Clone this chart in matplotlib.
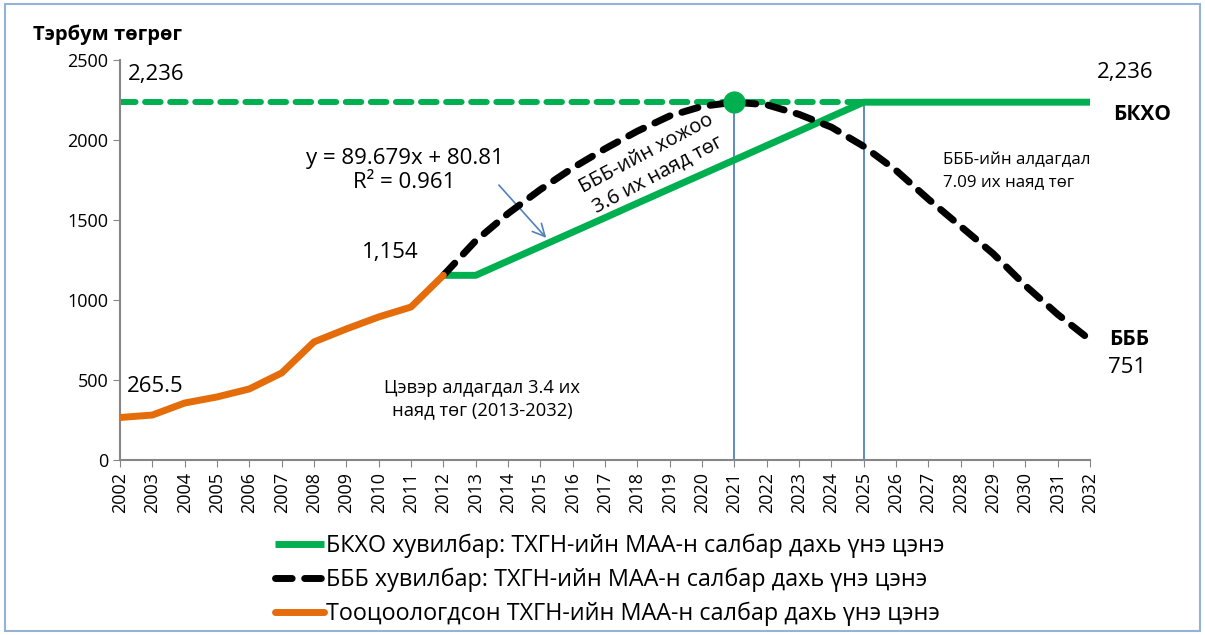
import numpy as np
import matplotlib.pyplot as plt
from matplotlib.patches import Rectangle

plt.rcParams['font.family'] = ['Open Sans', 'DejaVu Sans']

years = np.arange(2002, 2033)

# Тооцоологдсон (2002-2012)
hist_years = np.arange(2002, 2013)
hist_vals = [265.5, 281, 356, 394, 444, 544, 738, 819, 894, 956, 1154]

# БКХО хувилбар (2012-2032)
bkho_years = np.arange(2012, 2033)
bkho_vals = [1154, 1154, 1244, 1334, 1424, 1514, 1605, 1695, 1785, 1875, 1965,
             2055, 2146, 2236, 2236, 2236, 2236, 2236, 2236, 2236, 2236]

# БББ хувилбар (2012-2032)
bbb_years = np.arange(2012, 2033)
bbb_vals = [1154, 1370, 1540, 1690, 1825, 1945, 2055, 2150, 2210, 2236, 2220,
            2160, 2080, 1960, 1810, 1630, 1460, 1290, 1090, 910, 751]

target = 2236
peak_year = 2021
flat_year = 2025

green = '#00b050'
orange = '#e46c0a'
blue = '#4f81bd'

fig = plt.figure(figsize=(12.05, 6.35), dpi=100)
ax = fig.add_axes([0.0996, 0.2756, 0.805, 0.63])

ax.plot([2002, flat_year], [target, target], color=green, lw=4.3,
        dashes=(2.6, 1.6), dash_capstyle='round', zorder=2)
l1, = ax.plot(bkho_years, bkho_vals, color=green, lw=5, solid_capstyle='butt', zorder=3,
              label='БКХО хувилбар: ТХГН-ийн МАА-н салбар дахь үнэ цэнэ')
l2, = ax.plot(bbb_years, bbb_vals, color='black', lw=5, dashes=(2.4, 1.8),
              dash_capstyle='round', zorder=4,
              label='БББ хувилбар: ТХГН-ийн МАА-н салбар дахь үнэ цэнэ')
l3, = ax.plot(hist_years, hist_vals, color=orange, lw=5, solid_capstyle='round', zorder=5,
              label='Тооцоологдсон ТХГН-ийн МАА-н салбар дахь үнэ цэнэ')
ax.plot([peak_year], [target], 'o', color=green, ms=15, zorder=6)

ax.vlines([peak_year, flat_year], 0, target, color=blue, lw=1.3, zorder=1)

ax.annotate('', xy=(2015.24, 1375), xytext=(2013.66, 1731),
            arrowprops=dict(arrowstyle='->', color=blue, lw=1.2, mutation_scale=22))

ax.set_xlim(2002, 2032)
ax.set_ylim(0, 2500)
ax.set_xticks(years)
ax.set_xticklabels([str(y) for y in years], rotation=90, fontsize=13)
ax.set_yticks(np.arange(0, 2501, 500))
ax.tick_params(axis='y', labelsize=13, length=5, color='#868686')
ax.tick_params(axis='x', length=5, color='#868686')
for s in ['top', 'right']:
    ax.spines[s].set_visible(False)
for s in ['left', 'bottom']:
    ax.spines[s].set_color('#868686')
    ax.spines[s].set_linewidth(1.5)

fs = 16
ax.text(2002.25, 2406, '2,236', fontsize=fs, ha='left', va='center')
ax.text(2033.1, 2419, '2,236', fontsize=fs, ha='center', va='center', clip_on=False)
ax.text(2032.7, 2156, 'БКХО', fontsize=15, fontweight='bold', ha='left', va='center', clip_on=False)
ax.text(2010.8, 1810, 'y = 89.679x + 80.81\nR² = 0.961', fontsize=fs, ha='center', va='center',
        linespacing=1.2)
ax.text(2010.35, 1294, '1,154', fontsize=fs, ha='center', va='center')
ax.text(2003.08, 460, '265.5', fontsize=fs, ha='center', va='center')
ax.text(2018.45, 1850, 'БББ-ийн хожоо\n3.6 их наяд төг', fontsize=14.5, ha='center', va='center',
        rotation=28, rotation_mode='anchor', linespacing=1.25)
ax.text(2027.45, 1806, 'БББ-ийн алдагдал\n7.09 их наяд төг', fontsize=12.2, ha='left', va='center',
        linespacing=1.5)
ax.text(2032.6, 750, 'БББ', fontsize=15, fontweight='bold', ha='left', va='center', clip_on=False)
ax.text(2032.55, 581, '751', fontsize=fs, ha='left', va='center', clip_on=False)
ax.text(2013.2, 381, 'Цэвэр алдагдал 3.4 их\nнаяд төг (2013-2032)', fontsize=13.2, ha='center',
        va='center', linespacing=1.35)

fig.text(0.027, 0.945, 'Тэрбум төгрөг', fontsize=14.5, fontweight='bold', ha='left', va='center')

fig.legend(handles=[l1, l2, l3], loc='center', bbox_to_anchor=(0.506, 0.087), frameon=False,
           fontsize=16.8, handlelength=2.1, handletextpad=0.05, labelspacing=0.42)

fig.patches.append(Rectangle((0.004, 0.006), 0.992, 0.988, transform=fig.transFigure,
                             fill=False, edgecolor='#95b3d7', lw=1.5))

fig.savefig('out.png', dpi=100)
